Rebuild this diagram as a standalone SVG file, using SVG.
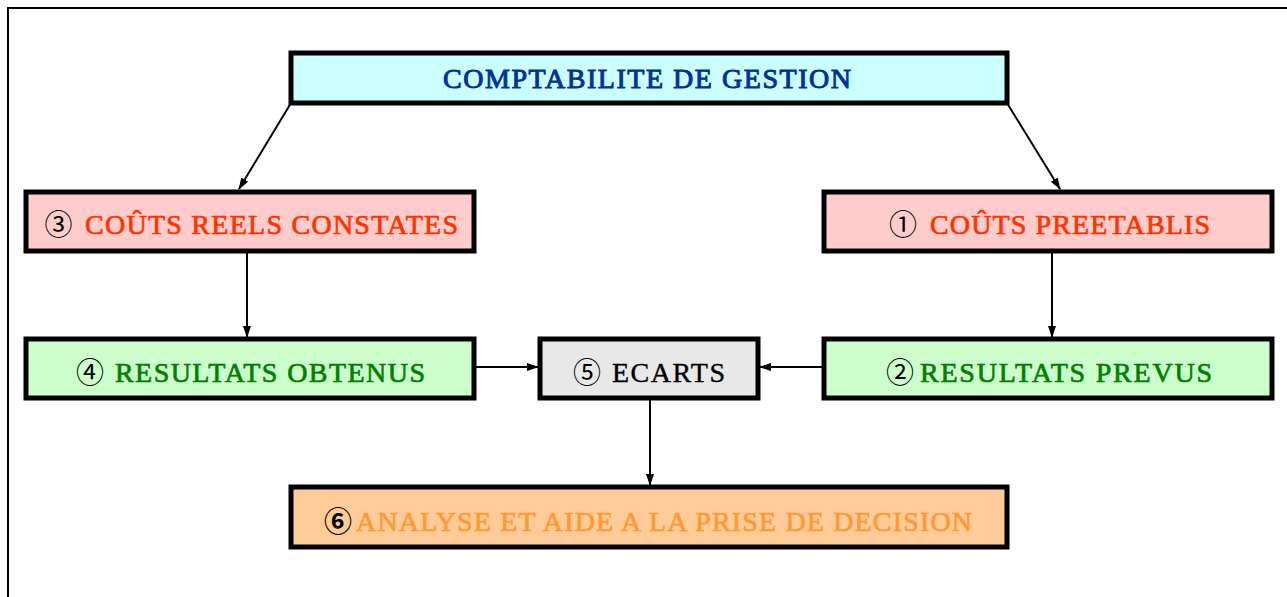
<svg xmlns="http://www.w3.org/2000/svg" width="1287" height="597" viewBox="0 0 1287 597">
<defs>
<marker id="ah" markerWidth="12" markerHeight="10" refX="11" refY="5" orient="auto" markerUnits="userSpaceOnUse">
<path d="M0,1 L12,5 L0,9 Z" fill="#000"/>
</marker>
<style>
.box{stroke:#000;stroke-width:5}
.t{font-family:"Liberation Serif","Times New Roman",serif;font-size:28px;stroke-width:0.7}
.n{font-family:"Noto Sans CJK JP","DejaVu Sans",sans-serif;font-size:28px;fill:#000;text-anchor:middle;dominant-baseline:central}
.c{stroke:#000;stroke-width:2;fill:none;marker-end:url(#ah)}
</style>
</defs>
<rect width="1287" height="597" fill="#fff"/>
<path d="M8,597 V8 H1287" fill="none" stroke="#000" stroke-width="2"/>
<g id="connectors">
<line class="c" x1="291" y1="103" x2="239" y2="189"/>
<line class="c" x1="1007" y1="103" x2="1060" y2="189"/>
<line class="c" x1="247" y1="251" x2="247" y2="337"/>
<line class="c" x1="1052" y1="251" x2="1052" y2="337"/>
<line class="c" x1="474" y1="367" x2="538" y2="367"/>
<line class="c" x1="824" y1="367" x2="760" y2="367"/>
<line class="c" x1="650" y1="398" x2="650" y2="485"/>
</g>
<g id="comptabilite">
<rect class="box" x="291" y="53" width="716" height="50" fill="#CCFFFF"/>
<text class="t" x="443" y="88" fill="#003399" stroke="#003399" style="stroke-width:1" textLength="408" lengthAdjust="spacing">COMPTABILITE DE GESTION</text>
</g>
<g id="couts-reels">
<rect class="box" x="26" y="192" width="448" height="59" fill="#FFCCCC"/>
<text class="n" x="58.5" y="223">③</text>
<text class="t" x="85" y="234" fill="#FF3300" stroke="#FF3300" textLength="373" lengthAdjust="spacing">COÛTS REELS CONSTATES</text>
</g>
<g id="couts-preetablis">
<rect class="box" x="824" y="192" width="448" height="59" fill="#FFCCCC"/>
<text class="n" x="903" y="223">①</text>
<text class="t" x="930" y="234" fill="#FF3300" stroke="#FF3300" textLength="280" lengthAdjust="spacing">COÛTS PREETABLIS</text>
</g>
<g id="resultats-obtenus">
<rect class="box" x="26" y="339" width="448" height="59" fill="#CCFFCC"/>
<text class="n" x="90" y="371">④</text>
<text class="t" x="115" y="382" fill="#008000" stroke="#008000" textLength="310" lengthAdjust="spacing">RESULTATS OBTENUS</text>
</g>
<g id="ecarts">
<rect class="box" x="540" y="339" width="218" height="59" fill="#E8E8E8"/>
<text class="n" x="587" y="371">⑤</text>
<text class="t" x="612" y="382" fill="#000" stroke="#000" style="stroke-width:0.4" textLength="113" lengthAdjust="spacing">ECARTS</text>
</g>
<g id="resultats-prevus">
<rect class="box" x="824" y="339" width="448" height="59" fill="#CCFFCC"/>
<text class="n" x="900" y="371">②</text>
<text class="t" x="920" y="382" fill="#008000" stroke="#008000" textLength="292" lengthAdjust="spacing">RESULTATS PREVUS</text>
</g>
<g id="analyse">
<rect class="box" x="291" y="487" width="716" height="60" fill="#FFCC99"/>
<text class="n" x="338" y="520" style="font-weight:bold">⑥</text>
<text class="t" x="356" y="531" fill="#FF9933" stroke="#FF9933" textLength="616" lengthAdjust="spacing">ANALYSE ET AIDE A LA PRISE DE DECISION</text>
</g>
</svg>
